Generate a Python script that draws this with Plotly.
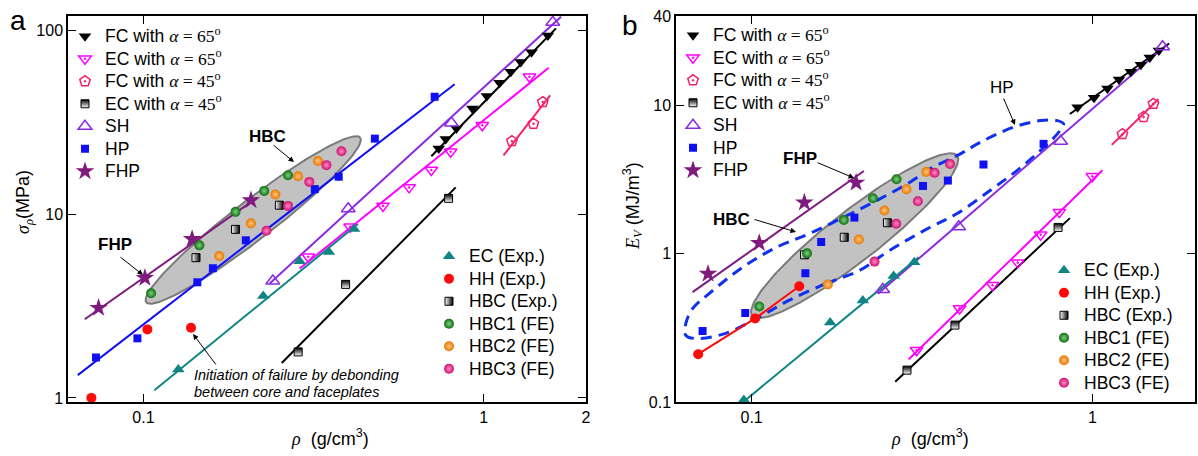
import numpy as np
import plotly.graph_objects as go

W, H = 1198, 456
FONT = "Arial, Liberation Sans, sans-serif"

# ---------------- Panel a : sigma_p (MPa) vs rho (g/cm3) ----------------
a_fc65_x = [0.738, 0.774, 0.832, 0.927, 1.022, 1.114, 1.202, 1.286, 1.383, 1.545]
a_fc65_y = [22.8, 25.7, 29.3, 37.6, 44.0, 52.0, 59.6, 67.5, 76.2, 94.0]
a_fc65_fit_x = [0.702, 1.632]
a_fc65_fit_y = [20.7, 102.8]

a_ec65_x = [0.305, 0.405, 0.506, 0.604, 0.702, 0.800, 0.991, 1.364]
a_ec65_y = [5.87, 8.54, 11.1, 14.0, 17.4, 21.9, 30.5, 56.0]
a_ec65_fit_x = [0.288, 1.554]
a_ec65_fit_y = [5.06, 62.7]

a_fc45_x = [1.211, 1.401, 1.493]
a_fc45_y = [25.0, 31.1, 40.8]
a_fc45_fit_x = [1.144, 1.569]
a_fc45_fit_y = [20.9, 44.4]

a_ec45_x = [0.285, 0.393, 0.789]
a_ec45_y = [1.78, 4.15, 12.2]
a_ec45_fit_x = [0.255, 0.828]
a_ec45_fit_y = [1.55, 14.0]

a_sh_x = [0.240, 0.400, 0.804, 1.597]
a_sh_y = [4.33, 10.7, 31.4, 111.0]
a_sh_fit_x = [0.235, 1.69]
a_sh_fit_y = [4.2, 119.0]

a_hp_x = [0.0725, 0.096, 0.144, 0.160, 0.200, 0.319, 0.375, 0.479, 0.718]
a_hp_y = [1.66, 2.11, 4.26, 5.08, 7.21, 13.7, 16.0, 25.8, 43.6]
a_hp_fit_x = [0.0641, 0.822]
a_hp_fit_y = [1.33, 51.0]

a_fhp_x = [0.0738, 0.101, 0.139, 0.207]
a_fhp_y = [3.09, 4.5, 7.33, 11.9]
a_fhp_fit_x = [0.0672, 0.216]
a_fhp_fit_y = [2.68, 12.3]

a_ec_x = [0.1266, 0.225, 0.288, 0.351, 0.416]
a_ec_y = [1.43, 3.59, 5.54, 6.23, 8.3]
a_ec_fit_x = [0.1077, 0.427]
a_ec_fit_y = [1.10, 8.84]

a_hh_x = [0.0703, 0.1027, 0.138]
a_hh_y = [1.0, 2.36, 2.41]

a_hbc_x = [0.1427, 0.1865, 0.251]
a_hbc_y = [5.8, 8.27, 11.2]

a_hbc1_x = [0.1053, 0.146, 0.1865, 0.2264, 0.266]
a_hbc1_y = [3.71, 6.77, 10.3, 13.4, 16.3]
a_hbc2_x = [0.167, 0.2069, 0.2443, 0.2848, 0.3256]
a_hbc2_y = [5.92, 8.92, 12.8, 16.1, 19.5]
a_hbc3_x = [0.23, 0.266, 0.3073, 0.345, 0.382]
a_hbc3_y = [8.13, 11.1, 15.0, 18.5, 22.0]

# ---------------- Panel b : E_V (MJ/m3) vs rho (g/cm3) ----------------
b_fc65_x = [0.905, 1.011, 1.107, 1.197, 1.296, 1.387, 1.474, 1.567]
b_fc65_y = [9.69, 11.26, 12.96, 14.94, 16.86, 18.79, 21.0, 23.4]
b_fc65_fit_x = [0.859, 1.68]
b_fc65_fit_y = [8.74, 26.1]

b_ec65_x = [0.3049, 0.4076, 0.509, 0.604, 0.705, 0.80, 1.0]
b_ec65_y = [0.2234, 0.4274, 0.6127, 0.87, 1.341, 1.905, 3.32]
b_ec65_fit_x = [0.2888, 1.07]
b_ec65_fit_y = [0.1934, 3.645]

b_fc45_x = [1.225, 1.413, 1.51]
b_fc45_y = [6.39, 8.35, 10.23]
b_fc45_fit_x = [1.14, 1.563]
b_fc45_fit_y = [5.41, 11.02]

b_ec45_x = [0.2857, 0.395, 0.793]
b_ec45_y = [0.164, 0.330, 1.502]
b_ec45_fit_x = [0.2639, 0.859]
b_ec45_fit_y = [0.1368, 1.736]

b_sh_x = [0.2425, 0.405, 0.807, 1.607]
b_sh_y = [0.573, 1.518, 5.73, 24.8]
b_sh_fit_x = [0.2348, 1.643]
b_sh_fit_y = [0.5365, 25.3]

b_hp_x = [0.0718, 0.0958, 0.1438, 0.16, 0.2003, 0.3184, 0.3766, 0.479, 0.719]
b_hp_y = [0.301, 0.398, 0.738, 1.198, 1.75, 2.86, 3.11, 3.99, 5.5]

b_fhp_x = [0.0745, 0.1053, 0.1428, 0.2026]
b_fhp_y = [0.731, 1.18, 2.21, 3.01]
b_fhp_fit_x = [0.0671, 0.2135]
b_fhp_fit_y = [0.55, 3.61]

b_ec_x = [0.0949, 0.170, 0.212, 0.261, 0.30]
b_ec_y = [0.1031, 0.344, 0.484, 0.706, 0.874]
b_ec_fit_x = [0.0935, 0.309]
b_ec_fit_y = [0.098, 0.944]

b_hh_x = [0.0697, 0.1024, 0.138]
b_hh_y = [0.21, 0.366, 0.603]

b_hbc_x = [0.143, 0.187, 0.2504]
b_hbc_y = [0.982, 1.29, 1.615]

b_hbc1_x = [0.1053, 0.1454, 0.1865, 0.227, 0.2662]
b_hbc1_y = [0.4408, 1.005, 1.684, 2.365, 3.17]
b_hbc2_x = [0.1674, 0.2064, 0.2453, 0.2847, 0.3256]
b_hbc2_y = [0.6193, 1.247, 1.952, 2.718, 3.56]
b_hbc3_x = [0.2294, 0.2657, 0.3074, 0.3443, 0.3823]
b_hbc3_y = [0.884, 1.59, 2.254, 3.51, 4.02]

# HP region outline (dashed) in panel b
b_hpzone_x = [0.1287, 0.1654, 0.2068, 0.2534, 0.333, 0.401, 0.502, 0.602, 0.705, 0.789,
              0.823, 0.789, 0.705, 0.587, 0.4694, 0.41, 0.3346, 0.29, 0.232, 0.1852,
              0.1475, 0.118, 0.0941, 0.0749, 0.0671, 0.0641, 0.0641, 0.0686, 0.084,
              0.1051, 0.1287]
b_hpzone_y = [0.4838, 0.629, 0.769, 1.047, 1.50, 1.865, 2.677, 3.645, 4.97, 6.42,
              7.49, 7.89, 7.89, 7.12, 5.64, 4.71, 3.74, 3.01, 2.27, 1.75,
              1.362, 1.10, 0.809, 0.536, 0.4254, 0.3374, 0.2817, 0.2677, 0.2904,
              0.3736, 0.4838]

# HBC ellipses (centre in data units, semi-axes in screen px, angle in deg)
a_ell = dict(cx=0.2102, cy=9.30, a=135, b=19.5, ang=37.6)
b_ell = dict(cx=0.2006, cy=1.321, a=130, b=25, ang=38)

# tick labels
x_ticks = [0.1, 1, 2]
x_ticktext = ["0.1", "1", "2"]
x_minor = [0.2, 0.3, 0.4, 0.5, 0.6, 0.7, 0.8, 0.9]
a_y_ticks = [1, 10, 100]
a_y_ticktext = ["1", "10", "100"]
a_y_minor = [2, 3, 4, 5, 6, 7, 8, 9, 20, 30, 40, 50, 60, 70, 80, 90]
b_y_ticks = [0.1, 1, 10, 40]
b_y_ticktext = ["0.1", "1", "10", "40"]
b_y_minor = [0.2, 0.3, 0.4, 0.5, 0.6, 0.7, 0.8, 0.9, 2, 3, 4, 5, 6, 7, 8, 9, 20, 30]

# ---------------- geometry ----------------
A_L, A_R, B_L, B_R = 68, 586, 676, 1195
TOP, BOT = 16, 402
X_RANGE = [np.log10(0.06), np.log10(2.0)]
A_YR = [np.log10(0.95), np.log10(120)]
B_YR = [np.log10(0.1), np.log10(40)]

def px(x):
    return x / W

def py(y):
    return 1 - y / H

def ellipse(e, ppd_x, ppd_y):
    t = np.linspace(0, 2 * np.pi, 200)
    th = np.radians(e["ang"])
    u = e["a"] * np.cos(t) * np.cos(th) - e["b"] * np.sin(t) * np.sin(th)
    v = e["a"] * np.cos(t) * np.sin(th) + e["b"] * np.sin(t) * np.cos(th)
    return 10 ** (np.log10(e["cx"]) + u / ppd_x), 10 ** (np.log10(e["cy"]) + v / ppd_y)

SER = "font-family:Liberation Serif"
LEGSZ = "font-size:17.5px"

def lname(s):
    return f"<span style='{LEGSZ}'>{s}</span>"

def alpha_name(kind, ang):
    return lname(f"{kind} with <span style='{SER}'><i>α</i> = {ang}<sup>o</sup></span>")

C_BLACK = "black"
C_MAG = "#FF00FF"
C_PENT = "#F5206E"
C_SH = "#8A2BE2"
C_HP = "#1010F5"
C_FHP = "#7F1A7F"
C_EC = "#108585"
C_HH = "#FF0A0A"

fig = go.Figure()

def add_panel(p, d, xa, ya, leg_top, leg_bot, ppd_x, ppd_y, ell, hp_fit, hh_line):
    ex, ey = ellipse(ell, ppd_x, ppd_y)
    fig.add_trace(go.Scatter(x=ex, y=ey, mode="lines", fill="toself", fillcolor="#C2C2C2",
                             line=dict(color="#7A7A7A", width=2), showlegend=False,
                             hoverinfo="skip", xaxis=xa, yaxis=ya))
    if p == "b":
        fig.add_trace(go.Scatter(x=b_hpzone_x, y=b_hpzone_y, mode="lines",
                                 line=dict(color="#1030F0", width=3, dash="11px,7px", shape="spline",
                                           smoothing=1.0),
                                 showlegend=False, hoverinfo="skip", xaxis=xa, yaxis=ya))
    fits = [("fc65", C_BLACK), ("ec65", C_MAG), ("fc45", C_PENT), ("ec45", C_BLACK),
            ("sh", C_SH), ("fhp", C_FHP), ("ec", C_EC)]
    if hp_fit:
        fits.append(("hp", C_HP))
    for key, col in fits:
        fig.add_trace(go.Scatter(x=d[key + "_fit_x"], y=d[key + "_fit_y"], mode="lines",
                                 line=dict(color=col, width=2), showlegend=False,
                                 hoverinfo="skip", xaxis=xa, yaxis=ya))
    if hh_line:
        fig.add_trace(go.Scatter(x=d["hh_x"], y=d["hh_y"], mode="lines",
                                 line=dict(color=C_HH, width=2), showlegend=False,
                                 hoverinfo="skip", xaxis=xa, yaxis=ya))
    top_series = [
        ("fc65", alpha_name("FC", 65), dict(symbol="triangle-down", color=C_BLACK, size=11)),
        ("ec65", alpha_name("EC", 65), dict(symbol="triangle-down-open-dot", color=C_MAG, size=11,
                                            line=dict(width=1.5, color=C_MAG))),
        ("fc45", alpha_name("FC", 45), dict(symbol="pentagon-open-dot", color=C_PENT, size=11,
                                            line=dict(width=1.5, color=C_PENT))),
        ("ec45", alpha_name("EC", 45), dict(symbol="square", color="black", size=8,
                                            gradient=dict(type="vertical", color="white"),
                                            line=dict(width=1, color="black"))),
        ("sh", lname("SH"), dict(symbol="triangle-up-open", color=C_SH, size=12, line=dict(width=1.5, color=C_SH))),
        ("hp", lname("HP"), dict(symbol="square", color=C_HP, size=8)),
        ("fhp", lname("FHP"), dict(symbol="star", color=C_FHP, size=14)),
    ]
    bot_series = [
        ("ec", lname("EC (Exp.)"), dict(symbol="triangle-up", color=C_EC, size=11)),
        ("hh", lname("HH (Exp.)"), dict(symbol="circle", color=C_HH, size=10)),
        ("hbc", lname("HBC (Exp.)"), dict(symbol="square", color="white", size=8,
                                          gradient=dict(type="horizontal", color="black"),
                                          line=dict(width=1, color="black"))),
        ("hbc1", lname("HBC1 (FE)"), dict(symbol="circle", color="#0F6E0F", size=10,
                                          gradient=dict(type="radial", color="#7FD07F"))),
        ("hbc2", lname("HBC2 (FE)"), dict(symbol="circle", color="#E87800", size=10,
                                          gradient=dict(type="radial", color="#FFC57F"))),
        ("hbc3", lname("HBC3 (FE)"), dict(symbol="circle", color="#D0106E", size=10,
                                          gradient=dict(type="radial", color="#FF8CC6"))),
    ]
    for key, name, mk in top_series:
        fig.add_trace(go.Scatter(x=d[key + "_x"], y=d[key + "_y"], mode="markers", name=name,
                                 marker=mk, legend=leg_top, xaxis=xa, yaxis=ya))
    for key, name, mk in bot_series:
        fig.add_trace(go.Scatter(x=d[key + "_x"], y=d[key + "_y"], mode="markers", name=name,
                                 marker=mk, legend=leg_bot, xaxis=xa, yaxis=ya))

ga = globals()
da = {k[2:]: v for k, v in ga.items() if k.startswith("a_") and isinstance(v, list)}
db = {k[2:]: v for k, v in ga.items() if k.startswith("b_") and isinstance(v, list)}

ppd_xa = (A_R - A_L) / (X_RANGE[1] - X_RANGE[0])
ppd_ya = (BOT - TOP) / (A_YR[1] - A_YR[0])
ppd_xb = (B_R - B_L) / (X_RANGE[1] - X_RANGE[0])
ppd_yb = (BOT - TOP) / (B_YR[1] - B_YR[0])

add_panel("a", da, "x", "y", "legend", "legend2", ppd_xa, ppd_ya, a_ell, True, False)
add_panel("b", db, "x2", "y2", "legend3", "legend4", ppd_xb, ppd_yb, b_ell, False, True)

def axis(domain, anchor, rng, tv, tt, major=True, overlay=None):
    d = dict(type="log", domain=domain, anchor=anchor, range=rng, tickvals=tv,
             showline=True, linecolor="black", linewidth=1.5, mirror="ticks",
             ticks="inside", ticklen=8 if major else 4, tickwidth=1.2 if major else 1,
             tickcolor="black", showgrid=False, zeroline=False, automargin=False,
             tickfont=dict(family=FONT, size=16, color="black"))
    if major:
        d["ticktext"] = tt
    else:
        d["showticklabels"] = False
        d["overlaying"] = overlay
    return d

ydom = [py(BOT), py(TOP)]
xdom_a = [px(A_L), px(A_R)]
xdom_b = [px(B_L), px(B_R)]

def leg(sym_x, first_y):
    return dict(x=px(sym_x - 21), y=py(first_y - 13), xanchor="left", yanchor="top",
                bgcolor="rgba(0,0,0,0)", borderwidth=0,
                font=dict(family=FONT, size=15, color="black"), tracegroupgap=0,
                itemclick=False)

fig.update_layout(
    width=W, height=H, margin=dict(l=0, r=0, t=0, b=0, pad=0),
    paper_bgcolor="white", plot_bgcolor="white", template="none",
    font=dict(family=FONT, color="black"),
    xaxis=axis(xdom_a, "y", X_RANGE, x_ticks, x_ticktext),
    yaxis=axis(ydom, "x", A_YR, a_y_ticks, a_y_ticktext),
    xaxis2=axis(xdom_b, "y2", X_RANGE, x_ticks, x_ticktext),
    yaxis2=axis(ydom, "x2", B_YR, b_y_ticks, b_y_ticktext),
    xaxis3=axis(xdom_a, "y", X_RANGE, x_minor, None, major=False, overlay="x"),
    yaxis3=axis(ydom, "x", A_YR, a_y_minor, None, major=False, overlay="y"),
    xaxis4=axis(xdom_b, "y2", X_RANGE, x_minor, None, major=False, overlay="x2"),
    yaxis4=axis(ydom, "x2", B_YR, b_y_minor, None, major=False, overlay="y2"),
    legend=leg(86, 33), legend2=leg(450, 253), legend3=leg(694, 32), legend4=leg(1065, 267),
)

ann = []
def text(x, y, s, size=17, **kw):
    d = dict(x=px(x), y=py(y), xref="paper", yref="paper", text=s, showarrow=False,
             xanchor="center", yanchor="middle",
             font=dict(family=FONT, size=size, color="black"))
    d.update(kw)
    ann.append(d)

def arrow(tail, tip):
    ann.append(dict(x=px(tip[0]), y=py(tip[1]), xref="paper", yref="paper", text="",
                    showarrow=True, ax=tail[0] - tip[0], ay=tail[1] - tip[1],
                    arrowhead=2, arrowsize=1.1, arrowwidth=1, arrowcolor="black"))

text(18, 20, "a", size=28)
text(630, 25, "b", size=28)
text(25, 202, f"<span style='{SER}'><i>σ</i><sub><i>ρ</i></sub></span>(MPa)", size=18, textangle=-90)
text(633, 206, f"<span style='{SER}'><i>E</i><sub><i>V</i></sub></span> (MJ/m<sup>3</sup>)", size=18, textangle=-90)
text(330, 437, f"<span style='{SER}'><i>ρ</i></span>  (g/cm<sup>3</sup>)", size=18)
text(930, 437, f"<span style='{SER}'><i>ρ</i></span>  (g/cm<sup>3</sup>)", size=18)
text(267, 136, "<b>HBC</b>")
arrow((272, 144), (294, 162))
text(115, 245, "<b>FHP</b>")
arrow((119, 256), (143, 275))
text(192, 375, "<i>Initiation of failure by debonding</i>", size=14.5, xanchor="left")
text(192, 392, "<i>between core and faceplates</i>", size=14.5, xanchor="left")
arrow((217, 366), (193, 334))
text(800, 158, "<b>FHP</b>")
arrow((816, 162), (854, 178))
text(731, 219, "<b>HBC</b>")
arrow((753, 219), (796, 232))
text(1002, 88, "HP")
arrow((1003, 97), (1015, 125))

fig.update_layout(annotations=ann)
fig.write_html("out.html", config={"displayModeBar": False},
               post_script="document.body.style.margin='0px';")
